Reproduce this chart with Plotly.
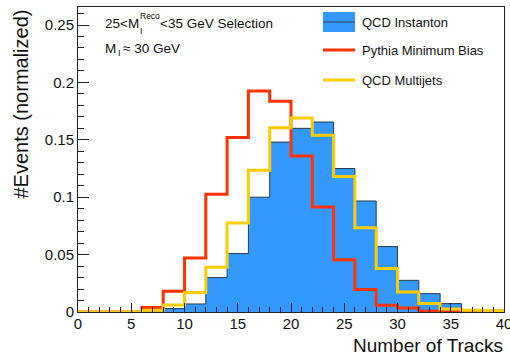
import numpy as np
import plotly.graph_objects as go

# Histogram binning: 20 bins of width 2 over 0..40 tracks
bin_edges = np.arange(0, 42, 2)

qcd_instanton = [0, 0, 0, 0, 0.003, 0.007, 0.030, 0.051, 0.100, 0.148,
                 0.160, 0.1655, 0.125, 0.0967, 0.057, 0.0276, 0.016, 0.0073, 0.002, 0.0015]
pythia_minbias = [0, 0, 0, 0.004, 0.018, 0.047, 0.1025, 0.152, 0.1925, 0.1835,
                  0.136, 0.0915, 0.0456, 0.0195, 0.0058, 0.0035, 0.0007, 0.0003, 0, 0]
qcd_multijets = [0, 0, 0, 0.0015, 0.006, 0.017, 0.039, 0.0775, 0.1235, 0.1605,
                 0.169, 0.154, 0.118, 0.0735, 0.038, 0.0174, 0.0073, 0.0026, 0.0015, 0.001]

x_ticks = list(range(0, 45, 5))
y_ticks = [0, 0.05, 0.1, 0.15, 0.2, 0.25]

BLUE = "#3399ff"
RED = "#ff3300"
YELLOW = "#ffcc00"
FONT = "Liberation Sans, Arial, sans-serif"

W, H = 510, 356
L, R, T, B = 78, 6, 7, 44
PW, PH = W - L - R, H - T - B


def xp(px):
    return (px - L) / PW


def yp(py):
    return (H - B - py) / PH


def step(vals):
    return list(vals) + [vals[-1]]


fig = go.Figure()
fig.add_trace(go.Scatter(
    x=bin_edges, y=step(qcd_instanton), mode="lines", line_shape="hv",
    fill="tozeroy", fillcolor=BLUE, line=dict(color="#2a3a4a", width=1),
    showlegend=False, hoverinfo="skip"))
fig.add_trace(go.Scatter(
    x=bin_edges, y=step(pythia_minbias), mode="lines", line_shape="hv",
    line=dict(color=RED, width=3), showlegend=False, hoverinfo="skip"))
fig.add_trace(go.Scatter(
    x=bin_edges, y=step(qcd_multijets), mode="lines", line_shape="hv",
    line=dict(color=YELLOW, width=3), showlegend=False, hoverinfo="skip"))

axis_common = dict(
    showgrid=False, zeroline=False, showline=True, mirror=True,
    linecolor="#222", linewidth=1, ticks="inside", tickcolor="#222",
    automargin=False,
    tickfont=dict(family=FONT, size=15, color="#111"),
)
fig.update_xaxes(range=[0, 40], tickvals=x_ticks, ticklen=9,
                 ticklabeloverflow="allow", ticklabelstandoff=-2,
                 minor=dict(dtick=1, ticks="inside", ticklen=5, tickcolor="#222"),
                 **axis_common)
fig.update_yaxes(range=[0, 0.2657], tickvals=y_ticks, ticklen=11,
                 minor=dict(dtick=0.01, ticks="inside", ticklen=6, tickcolor="#222"),
                 **axis_common)

ann = []
txt = dict(family=FONT, size=13.5, color="#111")
small = dict(family=FONT, size=9, color="#111")


def label(px, py, text, font=txt, xanchor="left", **kw):
    ann.append(dict(x=xp(px), y=yp(py), xref="paper", yref="paper", text=text,
                    showarrow=False, xanchor=xanchor, yanchor="middle",
                    borderpad=0, font=font, **kw))


# Selection labels (M with stacked superscript "Reco" over subscript "I")
label(104, 23, "25&lt;M")
label(139, 23,
      "<span style='font-size:8.5px'>Reco</span><br>"
      "<span style='font-size:9px'>I</span>",
      font=dict(family=FONT, size=11.5, color="#111"), align="left")
label(159, 23, "&lt;35 GeV Selection")
label(104, 48, "M")
label(117, 53, "I", font=small)
label(122, 48, "\u2248 30 GeV")

# Legend
leg_font = dict(family=FONT, size=13, color="#111")
label(361, 22, "QCD Instanton", font=leg_font)
label(361, 50, "Pythia Minimum Bias", font=leg_font)
label(361, 80, "QCD Multijets", font=leg_font)

# Axis titles
ann.append(dict(x=xp(505), y=yp(345), xref="paper", yref="paper",
                text="Number of Tracks", showarrow=False, xanchor="right",
                yanchor="middle", font=dict(family=FONT, size=19, color="#111")))
ann.append(dict(x=xp(21), y=yp(8), xref="paper", yref="paper",
                text="#Events (normalized)", showarrow=False, textangle=-90,
                xanchor="center", yanchor="top",
                font=dict(family=FONT, size=20, color="#111")))

shapes = [
    dict(type="rect", xref="paper", yref="paper", x0=xp(323), x1=xp(355),
         y0=yp(32), y1=yp(12), fillcolor=BLUE, line=dict(width=0)),
    dict(type="line", xref="paper", yref="paper", x0=xp(323), x1=xp(355),
         y0=yp(22), y1=yp(22), line=dict(color="#2a3a4a", width=1)),
    dict(type="line", xref="paper", yref="paper", x0=xp(323), x1=xp(355),
         y0=yp(50), y1=yp(50), line=dict(color=RED, width=3)),
    dict(type="line", xref="paper", yref="paper", x0=xp(323), x1=xp(355),
         y0=yp(80), y1=yp(80), line=dict(color=YELLOW, width=3)),
]

fig.update_layout(
    width=W, height=H, margin=dict(l=L, r=R, t=T, b=B),
    paper_bgcolor="white", plot_bgcolor="white",
    annotations=ann, shapes=shapes, showlegend=False,
)

fig.write_html("out.html")
